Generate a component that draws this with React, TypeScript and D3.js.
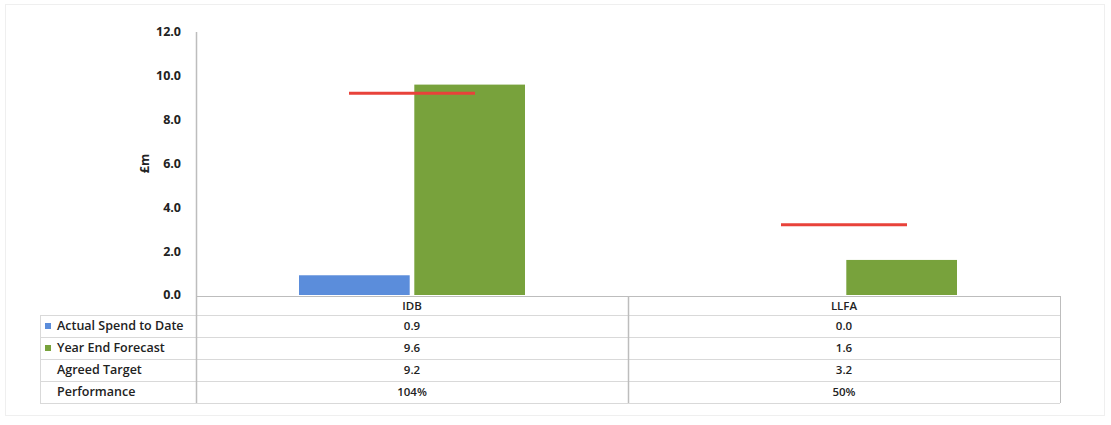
import React from "react";
import * as d3 from "d3";

const categories = ["IDB", "LLFA"];
const seriesNames = ["Actual Spend to Date", "Year End Forecast"];
const actualSpend = [0.9, 0.0];
const yearEndForecast = [9.6, 1.6];
const agreedTarget = [9.2, 3.2];
const performance = ["104%", "50%"];
const yTicks = [0, 2, 4, 6, 8, 10, 12];

const W = 1111;
const H = 425;
const FONT = "'Open Sans', 'Liberation Sans', sans-serif";
const BLUE = "#5b8ddb";
const GREEN = "#78a23c";
const RED = "#e8423a";
const GRID = "#d9d9d9";
const AXIS = "#bdbdbd";

export default function App() {
  const plotLeft = 196;
  const plotRight = 1060;
  const plotTop = 32;
  const tableLeft = 40;
  const rowEdges = [296, 315, 337, 359, 381, 403];

  const y = d3.scaleLinear().domain([0, 12]).range([295, plotTop]);
  const x = d3.scaleBand<string>().domain(categories).range([plotLeft, plotRight]).padding(0);
  const groupPad = 103;
  const sub = d3
    .scaleBand<string>()
    .domain(seriesNames)
    .range([groupPad, x.bandwidth() - groupPad])
    .paddingInner(0.04);
  const targetWidth = 126;

  const seriesValues = [actualSpend, yearEndForecast];
  const seriesColors = [BLUE, GREEN];

  const tableRows = [
    { label: "Actual Spend to Date", values: actualSpend.map((v) => d3.format(".1f")(v)), key: BLUE },
    { label: "Year End Forecast", values: yearEndForecast.map((v) => d3.format(".1f")(v)), key: GREEN },
    { label: "Agreed Target", values: agreedTarget.map((v) => d3.format(".1f")(v)), key: null },
    { label: "Performance", values: performance, key: null },
  ];

  return (
    <svg
      width={W}
      height={H}
      style={{ position: "absolute", left: 0, top: 0, background: "#fff" }}
      fontFamily={FONT}
    >
      <rect x={5.5} y={4.5} width={1099} height={411} fill="#fff" stroke="#efefef" strokeWidth={1} />

      {/* y-axis ticks */}
      {yTicks.map((t) => (
        <text
          key={t}
          x={181}
          y={y(t)}
          dy="0.35em"
          textAnchor="end"
          fontSize={12.5}
          fontWeight={700}
          fill="#222"
        >
          {d3.format(".1f")(t)}
        </text>
      ))}
      <text
        transform={`translate(145,${y(6)}) rotate(-90)`}
        textAnchor="middle"
        dy="0.35em"
        fontSize={12.5}
        fontWeight={700}
        fill="#222"
      >
        £m
      </text>

      {/* bars */}
      {categories.map((c, ci) => (
        <g key={c} transform={`translate(${x(c)},0)`}>
          {seriesNames.map((s, si) => {
            const v = seriesValues[si][ci];
            return (
              <rect
                key={s}
                x={sub(s)}
                y={y(v)}
                width={sub.bandwidth()}
                height={Math.max(0, y(0) - y(v))}
                fill={seriesColors[si]}
              />
            );
          })}
          <line
            x1={x.bandwidth() / 2 - targetWidth / 2}
            x2={x.bandwidth() / 2 + targetWidth / 2}
            y1={y(agreedTarget[ci])}
            y2={y(agreedTarget[ci])}
            stroke={RED}
            strokeWidth={3}
          />
        </g>
      ))}

      {/* table grid */}
      {rowEdges.map((ry, i) => (
        <line
          key={i}
          x1={i === 0 ? plotLeft : tableLeft}
          x2={plotRight}
          y1={ry + 0.5}
          y2={ry + 0.5}
          stroke={i === 0 ? AXIS : GRID}
          strokeWidth={1}
        />
      ))}
      <line x1={tableLeft + 0.5} x2={tableLeft + 0.5} y1={rowEdges[1]} y2={rowEdges[5]} stroke={GRID} />
      <line x1={plotLeft + 0.5} x2={plotLeft + 0.5} y1={plotTop} y2={rowEdges[5]} stroke={AXIS} strokeWidth={1.5} />
      {categories.map((c, i) =>
        i === 0 ? null : (
          <line
            key={c}
            x1={(x(c) as number) + 0.5}
            x2={(x(c) as number) + 0.5}
            y1={rowEdges[0]}
            y2={rowEdges[5]}
            stroke={AXIS}
            strokeWidth={1.5}
          />
        )
      )}
      <line x1={plotRight + 0.5} x2={plotRight + 0.5} y1={rowEdges[0]} y2={rowEdges[5]} stroke={AXIS} />

      {/* category header row */}
      {categories.map((c) => (
        <text
          key={c}
          x={(x(c) as number) + x.bandwidth() / 2}
          y={(rowEdges[0] + rowEdges[1]) / 2}
          dy="0.35em"
          textAnchor="middle"
          fontSize={11.5}
          fontWeight={600}
          fill="#222"
        >
          {c}
        </text>
      ))}

      {/* table rows */}
      {tableRows.map((r, ri) => {
        const cy = (rowEdges[ri + 1] + rowEdges[ri + 2]) / 2;
        return (
          <g key={r.label}>
            {r.key && <rect x={45} y={cy - 3} width={6} height={6} fill={r.key} />}
            <text x={57} y={cy} dy="0.35em" fontSize={12.5} fontWeight={600} fill="#222">
              {r.label}
            </text>
            {r.values.map((v, ci) => (
              <text
                key={ci}
                x={(x(categories[ci]) as number) + x.bandwidth() / 2}
                y={cy}
                dy="0.35em"
                textAnchor="middle"
                fontSize={11.5}
                fontWeight={600}
                fill="#222"
              >
                {v}
              </text>
            ))}
          </g>
        );
      })}
    </svg>
  );
}
